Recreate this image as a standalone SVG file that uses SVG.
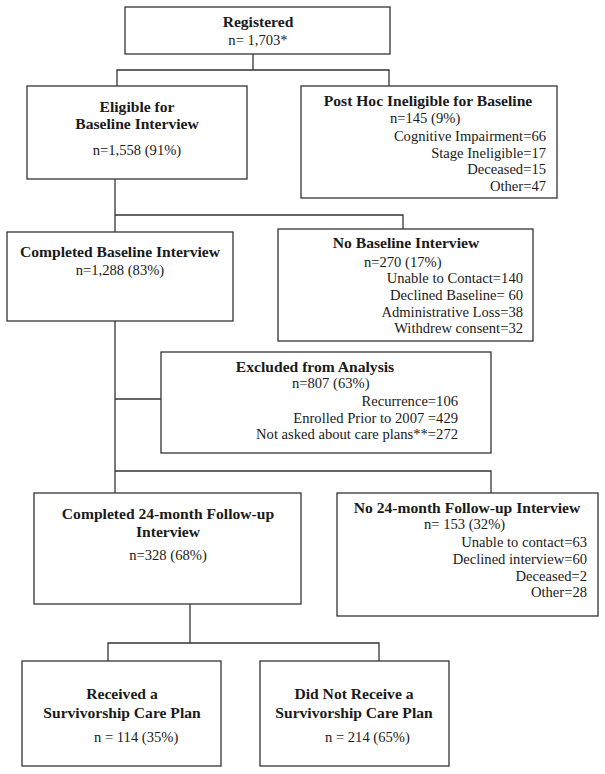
<svg xmlns="http://www.w3.org/2000/svg" width="605" height="774" viewBox="0 0 605 774">
<style>
  .box { fill: #ffffff; stroke: #333333; stroke-width: 1.3; }
  .conn { fill: none; stroke: #333333; stroke-width: 1.3; }
  text { font-family: "Liberation Serif", "Times New Roman", serif; font-size: 14.6px; fill: #1a1a1a; }
  .b { font-weight: bold; font-size: 15.6px; }
  .c { text-anchor: middle; }
  .r { text-anchor: end; }
</style>
<rect width="605" height="774" fill="#ffffff"/>
<g id="connectors">
  <polyline class="conn" points="253,54 253,70"/>
  <polyline class="conn" points="117,86 117,70 389,70 389,86"/>
  <polyline class="conn" points="115,179 115,232"/>
  <polyline class="conn" points="115,215 403,215 403,229"/>
  <polyline class="conn" points="115,321 115,493"/>
  <polyline class="conn" points="115,399 161,399"/>
  <polyline class="conn" points="115,471 491,471 491,493"/>
  <polyline class="conn" points="190,604 190,643"/>
  <polyline class="conn" points="108,661 108,643 379,643 379,661"/>
</g>
<g id="registered">
  <rect class="box" x="125" y="7" width="265" height="47"/>
  <text class="b c" x="258" y="27">Registered</text>
  <text class="c" x="258" y="45">n=  1,703*</text>
</g>
<g id="eligible">
  <rect class="box" x="27" y="86" width="220" height="93"/>
  <text class="b c" x="137" y="112">Eligible for</text>
  <text class="b c" x="137" y="129">Baseline Interview</text>
  <text class="c" x="137" y="155">n=1,558 (91%)</text>
</g>
<g id="posthoc">
  <rect class="box" x="301" y="86" width="256" height="112"/>
  <text class="b c" x="428" y="106">Post Hoc Ineligible for Baseline</text>
  <text x="390" y="123">n=145 (9%)</text>
  <text class="r" x="546" y="141">Cognitive Impairment=66</text>
  <text class="r" x="546" y="158">Stage Ineligible=17</text>
  <text class="r" x="546" y="174">Deceased=15</text>
  <text class="r" x="546" y="191">Other=47</text>
</g>
<g id="completed-baseline">
  <rect class="box" x="7" y="232" width="226" height="89"/>
  <text class="b c" x="120" y="257">Completed Baseline Interview</text>
  <text class="c" x="120" y="275">n=1,288 (83%)</text>
</g>
<g id="no-baseline">
  <rect class="box" x="278" y="229" width="255" height="112"/>
  <text class="b c" x="406" y="248">No Baseline Interview</text>
  <text x="364" y="267">n=270 (17%)</text>
  <text class="r" x="523" y="283">Unable to Contact=140</text>
  <text class="r" x="523" y="300">Declined Baseline= 60</text>
  <text class="r" x="523" y="317">Administrative Loss=38</text>
  <text class="r" x="523" y="333">Withdrew consent=32</text>
</g>
<g id="excluded">
  <rect class="box" x="161" y="352" width="330" height="101"/>
  <text class="b c" x="315" y="372">Excluded from Analysis</text>
  <text x="292" y="388">n=807 (63%)</text>
  <text class="r" x="458" y="406">Recurrence=106</text>
  <text class="r" x="458" y="423">Enrolled Prior to 2007 =429</text>
  <text class="r" x="458" y="439">Not asked about care plans**=272</text>
</g>
<g id="completed-24">
  <rect class="box" x="34" y="493" width="267" height="111"/>
  <text class="b c" x="168" y="519">Completed 24-month Follow-up</text>
  <text class="b c" x="168" y="537">Interview</text>
  <text class="c" x="168" y="560">n=328 (68%)</text>
</g>
<g id="no-24">
  <rect class="box" x="337" y="493" width="261" height="123"/>
  <text class="b c" x="467" y="513">No 24-month Follow-up Interview</text>
  <text x="424" y="529">n= 153 (32%)</text>
  <text class="r" x="587" y="547">Unable to contact=63</text>
  <text class="r" x="587" y="564">Declined interview=60</text>
  <text class="r" x="587" y="581">Deceased=2</text>
  <text class="r" x="587" y="597">Other=28</text>
</g>
<g id="received">
  <rect class="box" x="22" y="661" width="199" height="105"/>
  <text class="b c" x="122" y="699">Received a</text>
  <text class="b c" x="122" y="718">Survivorship Care Plan</text>
  <text x="94" y="742">n = 114 (35%)</text>
</g>
<g id="not-received">
  <rect class="box" x="260" y="661" width="189" height="105"/>
  <text class="b c" x="354" y="699">Did Not Receive a</text>
  <text class="b c" x="354" y="718">Survivorship Care Plan</text>
  <text x="325" y="742">n = 214 (65%)</text>
</g>
</svg>
